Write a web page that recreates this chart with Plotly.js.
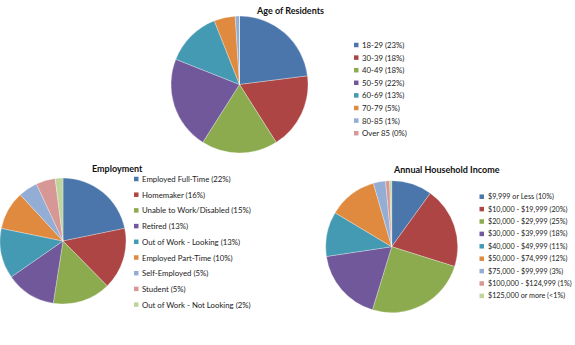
<!DOCTYPE html>
<html><head><meta charset="utf-8">
<script src="https://cdn.plot.ly/plotly-3.0.1.min.js"></script>
<style>html,body{margin:0;padding:0;background:#fff;}#chart{width:575px;height:345px;}</style>
</head><body><div id="chart"></div>
<script>
var colors = ['#4A76AB', '#AC4543', '#8CAB4F', '#70589A', '#4499B3', '#DF8A3E', '#93ADD5', '#D69795', '#BFD59C'];

var ageLabels = ['18-29 (23%)', '30-39 (18%)', '40-49 (18%)', '50-59 (22%)', '60-69 (13%)', '70-79 (5%)', '80-85 (1%)', 'Over 85 (0%)'];
var ageValues = [23, 18, 18, 22, 13, 5, 1, 0];

var empLabels = ['Employed Full-Time (22%)', 'Homemaker (16%)', 'Unable to Work/Disabled (15%)', 'Retired (13%)', 'Out of Work - Looking (13%)', 'Employed Part-Time (10%)', 'Self-Employed (5%)', 'Student (5%)', 'Out of Work - Not Looking (2%)'];
var empValues = [22, 16, 15, 13, 13, 10, 5, 5, 2];

var incLabels = ['$9,999 or Less (10%)', '$10,000 - $19,999 (20%)', '$20,000 - $29,999 (25%)', '$30,000 - $39,999 (18%)', '$40,000 - $49,999 (11%)', '$50,000 - $74,999 (12%)', '$75,000 - $99,999 (3%)', '$100,000 - $124,999 (1%)', '$125,000 or more (<1%)'];
var incValues = [10, 20, 25, 18, 11, 12, 3, 1, 0.5];

var W = 575, H = 345;
function px(x) { return x / W; }
function py(y) { return 1 - y / H; }

function pie(labels, values, x0, x1, y0, y1) {
  return {
    type: 'pie', labels: labels, values: values, sort: false, direction: 'clockwise', rotation: 0,
    textinfo: 'none', hoverinfo: 'label', showlegend: false,
    marker: {colors: colors.slice(0, values.length), line: {color: '#ffffff', width: 0.3}},
    domain: {x: [px(x0), px(x1)], y: [py(y1), py(y0)]}
  };
}

var data = [
  pie(ageLabels, ageValues, 171, 308, 16, 153),
  pie(empLabels, empValues, 0, 126, 176, 306),
  pie(incLabels, incValues, 325.7, 457.7, 180.7, 312.7)
];

var font = 'Lato, "Open Sans", "DejaVu Sans", sans-serif';
var annotations = [];
var shapes = [];

function title(text, cx, cy) {
  annotations.push({text: '<b>' + text + '</b>', xref: 'paper', yref: 'paper', x: px(cx), y: py(cy),
    xanchor: 'center', yanchor: 'middle', showarrow: false, font: {family: font, size: 9, color: '#111'}});
}
function legend(labels, sqx, y0, step, fs) {
  labels.forEach(function (lab, i) {
    var y = y0 + i * step;
    shapes.push({type: 'rect', xref: 'paper', yref: 'paper', x0: px(sqx), x1: px(sqx + 4.5), y0: py(y + 2.25), y1: py(y - 2.25),
      fillcolor: colors[i], line: {width: 0}});
    annotations.push({text: lab, xref: 'paper', yref: 'paper', x: px(sqx + 6), y: py(y), xanchor: 'left', yanchor: 'middle',
      showarrow: false, font: {family: font, size: fs, color: '#222'}});
  });
}

title('Age of Residents', 290, 10);
title('Employment', 117, 168);
title('Annual Household Income', 446, 169);
legend(ageLabels, 354, 45, 12.6, 7.8);
legend(empLabels, 134, 179, 15.7, 7.8);
legend(incLabels, 479.5, 196.7, 12.4, 7.2);

var layout = {
  width: W, height: H, margin: {l: 0, r: 0, t: 0, b: 0},
  paper_bgcolor: '#ffffff', plot_bgcolor: '#ffffff',
  showlegend: false, annotations: annotations, shapes: shapes
};
Plotly.newPlot('chart', data, layout, {displayModeBar: false, staticPlot: true});
</script></body></html>
